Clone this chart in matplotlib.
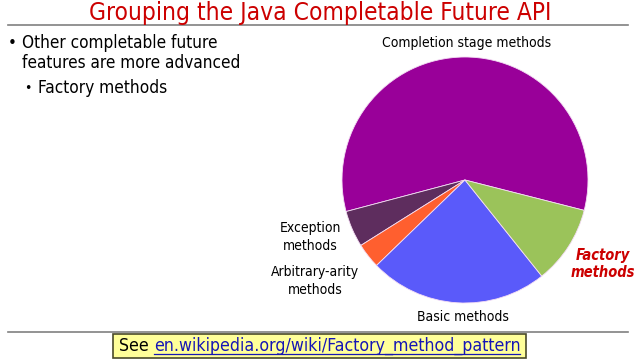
import matplotlib
matplotlib.use("Agg")
import matplotlib.pyplot as plt
from matplotlib.lines import Line2D
from matplotlib.patches import Rectangle

# Data
categories = ["Completion stage methods", "Exception methods", "Arbitrary-arity methods",
              "Basic methods", "Factory methods"]
values = [58.1, 4.8, 3.3, 23.5, 10.3]
colors = ["#990099", "#5E2D5E", "#FF5F2F", "#5A5AFA", "#9BC35A"]
label_texts = ["Completion stage methods", "Exception\nmethods", "Arbitrary-arity\nmethods",
               "Basic methods", "Factory\nmethods"]

W, H = 640, 360
fig = plt.figure(figsize=(6.4, 3.6), dpi=100)
fig.patch.set_facecolor("white")

FONT = dict(family="DejaVu Sans", stretch="condensed")

def fx(x):
    return x / W

def fy(y):
    return 1 - y / H

# Title
fig.text(fx(320), fy(13), "Grouping the Java Completable Future API", ha="center", va="center",
         color="#CC0000", fontsize=17.6, **FONT)
fig.add_artist(Line2D([fx(8), fx(628)], [fy(25), fy(25)], color="#808080", lw=1.2))
fig.add_artist(Line2D([fx(8), fx(628)], [fy(332), fy(332)], color="#808080", lw=1.2))

# Bullets
fig.text(fx(8), fy(43), "\u2022", ha="left", va="center", fontsize=12, **FONT)
fig.text(fx(22), fy(43), "Other completable future", ha="left", va="center", fontsize=12.3, **FONT)
fig.text(fx(22), fy(63), "features are more advanced", ha="left", va="center", fontsize=12.3, **FONT)
fig.text(fx(24), fy(88), "\u2022", ha="left", va="center", fontsize=10, **FONT)
fig.text(fx(38), fy(88), "Factory methods", ha="left", va="center", fontsize=12.4, **FONT)

# Pie
cx, cy, r = 465, 180, 123
ax = fig.add_axes([fx(cx - r), fy(cy + r), 2 * r / W, 2 * r / H])
ax.pie(values, colors=colors, startangle=-14.3, counterclock=True, radius=1,
       wedgeprops=dict(edgecolor="#F4DDF4", linewidth=0.6))
ax.set_xlim(-1, 1)
ax.set_ylim(-1, 1)
ax.set_aspect("equal")
ax.axis("off")

# Pie labels
fig.text(fx(467), fy(43), label_texts[0], ha="center", va="center", fontsize=10, **FONT)
fig.text(fx(310), fy(237), label_texts[1], ha="center", va="center", fontsize=10,
         linespacing=1.3, **FONT)
fig.text(fx(315), fy(281), label_texts[2], ha="center", va="center", fontsize=10,
         linespacing=1.3, **FONT)
fig.text(fx(463), fy(317), label_texts[3], ha="center", va="center", fontsize=10, **FONT)
fig.text(fx(603), fy(264), label_texts[4], ha="center", va="center", fontsize=10.5,
         color="#CC0000", fontweight="bold", style="italic", linespacing=1.15,
         family="DejaVu Sans", stretch="condensed")

# Bottom link box
fig.add_artist(Rectangle((fx(113), fy(358)), (526 - 113) / W, (358 - 334) / H,
                         transform=fig.transFigure, facecolor="#FFFF99",
                         edgecolor="#4A4A2A", lw=1.2))
t1 = fig.text(fx(119), fy(346), "See ", ha="left", va="center", fontsize=12.7, **FONT)
fig.canvas.draw()
renderer = fig.canvas.get_renderer()
bb1 = t1.get_window_extent(renderer)
x_link = bb1.x1 / W
t2 = fig.text(x_link, fy(346), "en.wikipedia.org/wiki/Factory_method_pattern", ha="left",
              va="center", fontsize=12.7, color="#1515B5", **FONT)
fig.canvas.draw()
bb2 = t2.get_window_extent(renderer)
fig.add_artist(Line2D([bb2.x0 / W, bb2.x1 / W], [fy(354), fy(354)], color="#1515B5", lw=0.9))

fig.savefig("out.png", dpi=100)
